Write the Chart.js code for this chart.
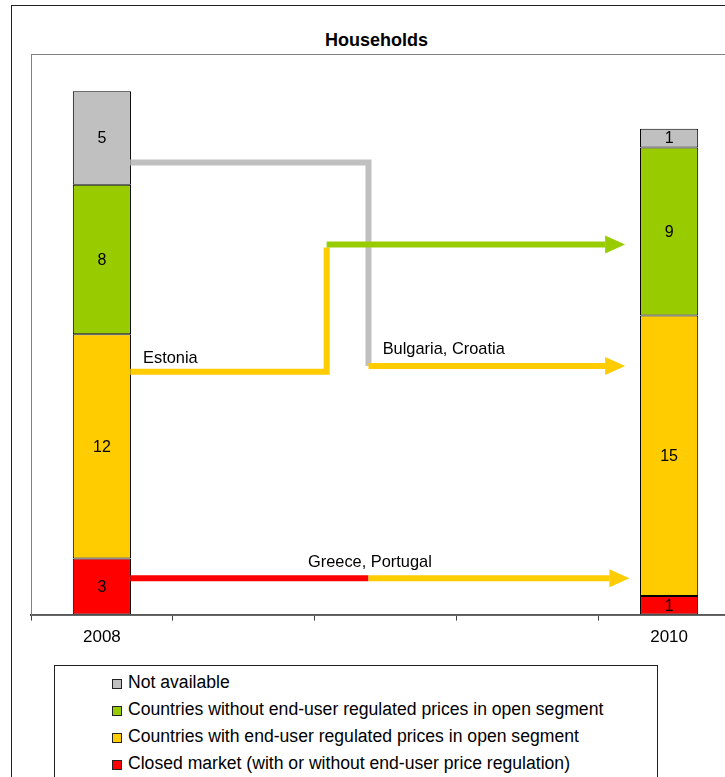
<!DOCTYPE html>
<html>
<head>
<meta charset="utf-8">
<script src="https://cdn.jsdelivr.net/npm/chart.js@4"></script>
<style>
    html, body { margin: 0; padding: 0; background: #fff; overflow: hidden; }
    body { width: 725px; height: 777px; position: relative; }
    #frame { position: absolute; left: 11px; top: 5px; width: 731px; height: 900px; border: 1px solid #222; box-sizing: border-box; }
    #title {
        position: absolute; left: 0; right: 0; top: 24px; text-align: center;
        font-family: 'Liberation Sans', Arial, sans-serif; font-size: 18px; font-weight: bold; color: #000;
    }
    #chartCanvas { position: absolute; left: 0; top: 0; }
    #legend {
        position: absolute; left: 54px; top: 665px; width: 604px; height: 140px;
        border: 1px solid #222; box-sizing: border-box; background: #fff;
        font-family: 'Liberation Sans', Arial, sans-serif; font-size: 17.6px; color: #000;
        padding-top: 5px;
    }
    .legend-row { position: relative; height: 27px; line-height: 22px; padding-left: 73px; }
    .legend-box { position: absolute; left: 57px; top: 8px; width: 8px; height: 8px; border: 1px solid #222; }
</style>
</head>
<body>
<div id="frame"><div id="title">Households</div></div>
<canvas id="chartCanvas" width="760" height="777"></canvas>
<div id="legend"></div>
<script>
Chart.defaults.font.family = "'Liberation Sans', Arial, sans-serif";
Chart.defaults.color = '#000';

const categories = ['2008', '', '', '', '2010'];
const closedMarket = [3, null, null, null, 1];
const withRegulatedPrices = [12, null, null, null, 15];
const withoutRegulatedPrices = [8, null, null, null, 9];
const notAvailable = [5, null, null, null, 1];

const seriesNames = [
    'Closed market (with or without end-user price regulation)',
    'Countries with end-user regulated prices in open segment',
    'Countries without end-user regulated prices in open segment',
    'Not available'
];

const RED = '#FF0000';
const YELLOW = '#FFCC00';
const GREEN = '#99CC00';
const GREY = '#C0C0C0';

// country movements between the two years, in (category index, count) units
const flowSegments = [
    { color: GREY, points: [[0.2, 24.2], [1.88, 24.2], [1.88, 13.3]] },
    { color: YELLOW, points: [[1.88, 13.3], [3.69, 13.3]], arrow: true },
    { color: YELLOW, points: [[0.2, 13.0], [1.585, 13.0], [1.585, 19.65]] },
    { color: GREEN, points: [[1.585, 19.8], [3.69, 19.8]], arrow: true },
    { color: RED, points: [[0.2, 1.94], [1.88, 1.94]] },
    { color: YELLOW, points: [[1.88, 1.94], [3.72, 1.94]], arrow: true }
];

const flowNotes = [
    { text: 'Estonia', at: [0.29, 13.7], align: 'left' },
    { text: 'Bulgaria, Croatia', at: [1.98, 14.2], align: 'left' },
    { text: 'Greece, Portugal', at: [1.89, 2.8], align: 'center' }
];

const plotBorderPlugin = {
    id: 'plotBorder',
    beforeDatasetsDraw(chart) {
        const { ctx, chartArea: a } = chart;
        ctx.save();
        ctx.strokeStyle = '#808080';
        ctx.lineWidth = 1;
        ctx.strokeRect(a.left + 0.5, a.top + 0.5, a.right - a.left, a.bottom - a.top);
        ctx.restore();
    }
};

const flowPlugin = {
    id: 'flows',
    afterDatasetsDraw(chart) {
        const { ctx, scales: { x, y } } = chart;
        ctx.save();
        ctx.lineWidth = 6;
        ctx.lineJoin = 'miter';
        ctx.lineCap = 'butt';
        flowSegments.forEach(function(seg) {
            const pts = seg.points.map(p => [x.getPixelForValue(p[0]), y.getPixelForValue(p[1])]);
            const last = pts[pts.length - 1];
            if (seg.arrow) last[0] -= 20;
            ctx.strokeStyle = seg.color;
            ctx.beginPath();
            ctx.moveTo(pts[0][0], pts[0][1]);
            for (let i = 1; i < pts.length; i++) ctx.lineTo(pts[i][0], pts[i][1]);
            ctx.stroke();
            if (seg.arrow) {
                ctx.fillStyle = seg.color;
                ctx.beginPath();
                ctx.moveTo(last[0], last[1] - 9);
                ctx.lineTo(last[0] + 20, last[1]);
                ctx.lineTo(last[0], last[1] + 9);
                ctx.closePath();
                ctx.fill();
            }
        });
        ctx.fillStyle = '#000';
        ctx.font = "16.4px 'Liberation Sans', Arial, sans-serif";
        ctx.textBaseline = 'middle';
        flowNotes.forEach(function(n) {
            ctx.textAlign = n.align;
            ctx.fillText(n.text, x.getPixelForValue(n.at[0]), y.getPixelForValue(n.at[1]));
        });
        ctx.restore();
    }
};

const barValuePlugin = {
    id: 'barValues',
    afterDatasetsDraw(chart) {
        const { ctx } = chart;
        ctx.save();
        ctx.fillStyle = '#000';
        ctx.font = "16px 'Liberation Sans', Arial, sans-serif";
        ctx.textAlign = 'center';
        ctx.textBaseline = 'middle';
        chart.data.datasets.forEach(function(ds, i) {
            chart.getDatasetMeta(i).data.forEach(function(bar, j) {
                if (ds.data[j] == null) return;
                ctx.fillText(String(ds.data[j]), bar.x, (bar.y + bar.base) / 2 + 1);
            });
        });
        ctx.restore();
    }
};

function makeDataset(label, values, color) {
    return {
        label: label,
        data: values,
        backgroundColor: color,
        borderColor: '#000',
        borderWidth: 1,
        borderSkipped: false,
        categoryPercentage: 1,
        barPercentage: 0.41
    };
}

const householdsChart = new Chart(document.getElementById('chartCanvas'), {
    type: 'bar',
    data: {
        labels: categories,
        datasets: [
            makeDataset(seriesNames[0], closedMarket, RED),
            makeDataset(seriesNames[1], withRegulatedPrices, YELLOW),
            makeDataset(seriesNames[2], withoutRegulatedPrices, GREEN),
            makeDataset(seriesNames[3], notAvailable, GREY)
        ]
    },
    options: {
        responsive: false,
        animation: false,
        layout: { padding: { left: 31, right: 20, top: 54, bottom: 122 } },
        plugins: {
            legend: { display: false },
            tooltip: { enabled: false },
            title: { display: false }
        },
        scales: {
            x: {
                stacked: true,
                grid: {
                    offset: true,
                    drawOnChartArea: false,
                    drawTicks: true,
                    tickLength: 6,
                    color: '#404040'
                },
                border: { display: true, color: '#404040', width: 2 },
                ticks: { color: '#000', font: { size: 17 }, padding: 7, autoSkip: false, maxRotation: 0 }
            },
            y: {
                stacked: true,
                display: false,
                min: 0,
                max: 30
            }
        }
    },
    plugins: [plotBorderPlugin, flowPlugin, barValuePlugin]
});

// legend lists the series top of stack first
const legendEl = document.getElementById('legend');
householdsChart.data.datasets.slice().reverse().forEach(function(ds) {
    const row = document.createElement('div');
    row.className = 'legend-row';
    const box = document.createElement('span');
    box.className = 'legend-box';
    box.style.background = ds.backgroundColor;
    row.appendChild(box);
    row.appendChild(document.createTextNode(ds.label));
    legendEl.appendChild(row);
});
</script>
</body>
</html>
